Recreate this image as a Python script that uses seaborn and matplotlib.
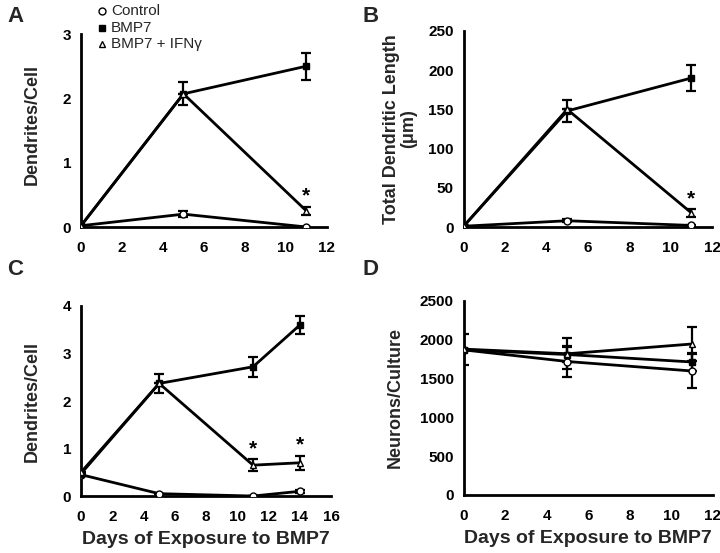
import matplotlib
matplotlib.use("Agg")
import matplotlib.pyplot as plt
import seaborn as sns
import numpy as np

sns.set_theme(style="white")
plt.rcParams['font.family'] = ['Liberation Sans', 'DejaVu Sans']

# ---- data ----
days_ab = [0, 5, 11]
days_c = [0, 5, 11, 14]

# panel A: dendrites per cell
a_control = [0.02, 0.20, 0.0]
a_control_err = [0, 0.05, 0]
a_bmp7 = [0.02, 2.07, 2.50]
a_bmp7_err = [0, 0.18, 0.21]
a_ifn = [0.02, 2.07, 0.25]
a_ifn_err = [0, 0, 0.06]

# panel B: total dendritic length (um)
b_control = [1, 8, 2]
b_control_err = [0, 2, 1]
b_bmp7 = [1, 148, 190]
b_bmp7_err = [0, 14, 17]
b_ifn = [1, 150, 18]
b_ifn_err = [0, 0, 5]

# panel C: dendrites per cell, longer time course
c_control = [0.45, 0.05, 0.0, 0.10]
c_control_err = [0.03, 0, 0, 0.03]
c_bmp7 = [0.47, 2.37, 2.72, 3.60]
c_bmp7_err = [0, 0.20, 0.21, 0.18]
c_ifn = [0.50, 2.37, 0.65, 0.70]
c_ifn_err = [0, 0, 0.12, 0.15]

# panel D: neurons per culture
d_control = [1870, 1720, 1598]
d_control_err = [200, 200, 220]
d_bmp7 = [1870, 1810, 1714]
d_bmp7_err = [0, 100, 115]
d_ifn = [1880, 1820, 1946]
d_ifn_err = [0, 200, 220]

series_names = ['Control', 'BMP7', 'BMP7 + IFN\u03b3']
markers = ['o', 's', '^']
facecolors = ['white', 'black', 'white']


def draw_panel(ax, days, series, errs, xlim, ylim, yticks, xticks):
    for i, (vals, err) in enumerate(zip(series, errs)):
        sns.lineplot(x=days, y=vals, ax=ax, color='black', lw=2,
                     marker=markers[i], markersize=5,
                     markerfacecolor=facecolors[i], markeredgecolor='black',
                     markeredgewidth=1, zorder=3 + i)
        ax.errorbar(days, vals, yerr=err, fmt='none', ecolor='black',
                    elinewidth=1.6, capsize=3.5, capthick=1.6, zorder=2)
    ax.set_xlim(*xlim)
    ax.set_ylim(*ylim)
    ax.set_xticks(xticks)
    ax.set_yticks(yticks)
    sns.despine(ax=ax)
    for s in ['left', 'bottom']:
        ax.spines[s].set_linewidth(2)
        ax.spines[s].set_color('black')
    ax.tick_params(axis='both', direction='out', length=4, width=1.2,
                   colors='black', labelsize=11, pad=3)
    ax.tick_params(axis='x', pad=6)
    for lab in ax.get_xticklabels() + ax.get_yticklabels():
        lab.set_fontweight('bold')
    ax.set_facecolor('white')


fig = plt.figure(figsize=(7.2, 5.53), dpi=100)
fig.patch.set_facecolor('white')

axA = fig.add_axes([0.1125, 0.5895, 0.3415, 0.349])
axB = fig.add_axes([0.644, 0.5895, 0.345, 0.3545])
axC = fig.add_axes([0.1125, 0.103, 0.3475, 0.3437])
axD = fig.add_axes([0.644, 0.1049, 0.346, 0.3508])

draw_panel(axA, days_ab, [a_control, a_bmp7, a_ifn],
           [a_control_err, a_bmp7_err, a_ifn_err],
           (0, 12), (0, 3), [0, 1, 2, 3], range(0, 13, 2))
draw_panel(axB, days_ab, [b_control, b_bmp7, b_ifn],
           [b_control_err, b_bmp7_err, b_ifn_err],
           (0, 12), (0, 250), range(0, 251, 50), range(0, 13, 2))
draw_panel(axC, days_c, [c_control, c_bmp7, c_ifn],
           [c_control_err, c_bmp7_err, c_ifn_err],
           (0, 16), (0, 4), [0, 1, 2, 3, 4], range(0, 17, 2))
draw_panel(axD, days_ab, [d_control, d_bmp7, d_ifn],
           [d_control_err, d_bmp7_err, d_ifn_err],
           (0, 12), (0, 2500), range(0, 2501, 500), range(0, 13, 2))

axA.set_ylabel('Dendrites/Cell', fontsize=13, fontweight='bold')
axA.yaxis.set_label_coords(-0.165, 0.53)
axB.set_ylabel('Total Dendritic Length\n(\u03bcm)', fontsize=13, fontweight='bold',
               labelpad=8, linespacing=1.0)
axC.set_ylabel('Dendrites/Cell', fontsize=13, fontweight='bold')
axC.yaxis.set_label_coords(-0.16, 0.5)
axD.set_ylabel('Neurons/Culture', fontsize=13, fontweight='bold', labelpad=12)
axC.set_xlabel('Days of Exposure to BMP7', fontsize=14, fontweight='bold', labelpad=5)
axD.set_xlabel('Days of Exposure to BMP7', fontsize=14, fontweight='bold', labelpad=5)

# significance stars above the IFN-gamma points
star_kw = dict(ha='center', va='bottom', fontsize=15, fontweight='bold', color='black')
axA.text(11, a_ifn[2] + a_ifn_err[2] + 0.02, '*', **star_kw)
axB.text(11, b_ifn[2] + b_ifn_err[2] + 1, '*', **star_kw)
axC.text(11, c_ifn[2] + c_ifn_err[2] + 0.02, '*', **star_kw)
axC.text(14, c_ifn[3] + c_ifn_err[3] + 0.02, '*', **star_kw)

# panel letters
for lbl, (x, y) in zip('ABCD', [(0.01, 0.99), (0.503, 0.99), (0.01, 0.532), (0.503, 0.532)]):
    fig.text(x, y, lbl, fontsize=16, fontweight='bold', va='top', ha='left')

# legend drawn as figure text
for i, name in enumerate(series_names):
    y = 1 - (11 + 16.5 * i) / 553
    fig.lines.append(plt.Line2D([102 / 720], [y], transform=fig.transFigure,
                                marker=markers[i], markersize=5, color='black',
                                markerfacecolor=facecolors[i], markeredgewidth=1, lw=0))
    fig.text(111 / 720, y, name, fontsize=11, va='center', ha='left')

fig.savefig('out.png', dpi=100, facecolor='white')
